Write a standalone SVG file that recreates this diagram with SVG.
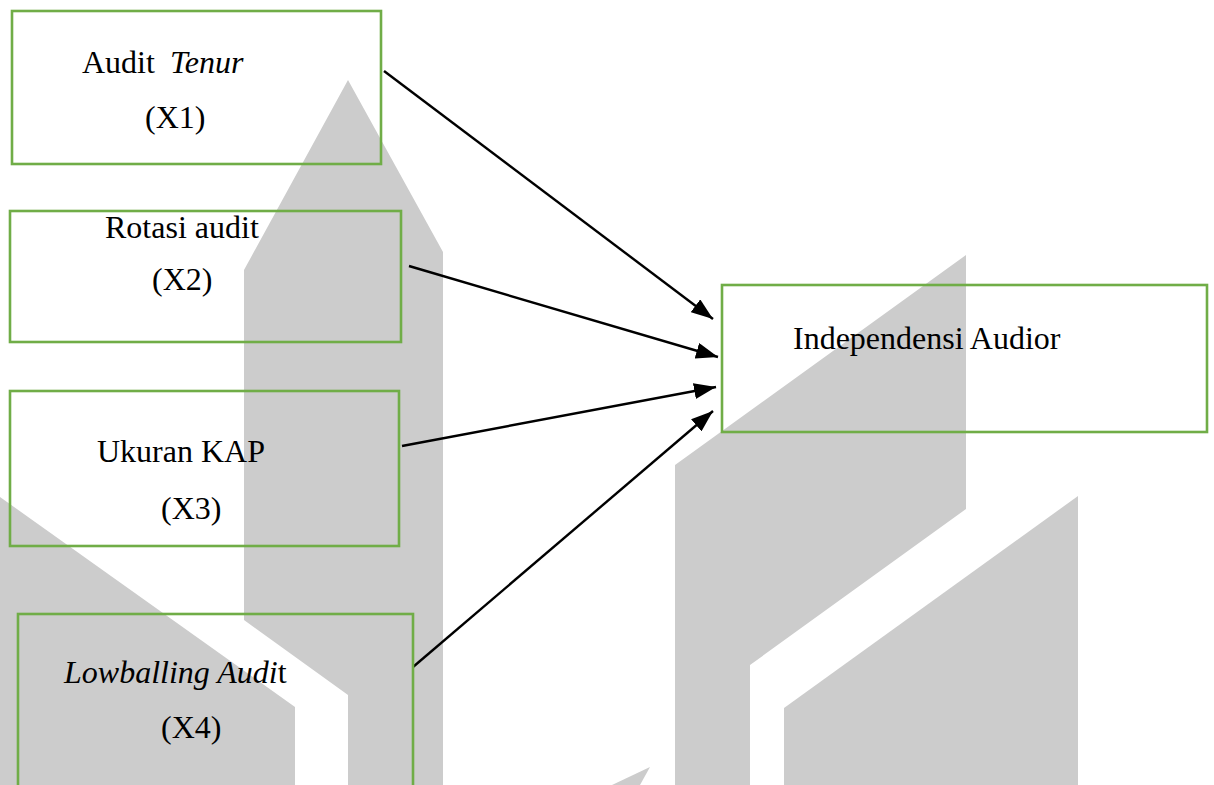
<svg xmlns="http://www.w3.org/2000/svg" width="1214" height="785" viewBox="0 0 1214 785">
<style>
.bg{fill:#cccccc;stroke:none}
.box{fill:none;stroke:#70ad47;stroke-width:2.6}
.t{font-family:"Liberation Serif","Times New Roman",serif;font-size:32px;fill:#000}
.i{font-style:italic}
.c{stroke:#000;stroke-width:2.4;fill:none}
</style>
<defs>
<marker id="ah" viewBox="0 0 22 16" refX="22" refY="8" markerWidth="22" markerHeight="16" markerUnits="userSpaceOnUse" orient="auto">
<path d="M0,0 L22,8 L0,16 z" fill="#000"/>
</marker>
</defs>
<rect width="1214" height="785" fill="#fff"/>
<g id="watermark">
<polygon class="bg" points="348,80 244,270 244,620 348,695 348,785 443,785 443,252"/>
<polygon class="bg" points="0,497 295,707 295,785 0,785"/>
<polygon class="bg" points="675,465 966,255 966,509 750,665 750,785 675,785"/>
<polygon class="bg" points="784,708 1078,496 1078,785 784,785"/>
<polygon class="bg" points="650,767 612,785 640,785"/>
</g>
<g id="connectors">
<line class="c" x1="384" y1="71" x2="713" y2="319" marker-end="url(#ah)"/>
<line class="c" x1="409" y1="266" x2="718" y2="357" marker-end="url(#ah)"/>
<line class="c" x1="402" y1="446" x2="716" y2="387" marker-end="url(#ah)"/>
<line class="c" x1="413" y1="667" x2="713" y2="411" marker-end="url(#ah)"/>
</g>
<g id="node-x1">
<rect class="box" x="12" y="11" width="369" height="153"/>
<text class="t" y="73"><tspan x="82">Audit</tspan><tspan x="170" class="i">Tenur</tspan></text>
<text class="t" x="145" y="128">(X1)</text>
</g>
<g id="node-x2">
<rect class="box" x="10" y="211" width="391" height="131"/>
<text class="t" x="105" y="238">Rotasi audit</text>
<text class="t" x="152" y="290">(X2)</text>
</g>
<g id="node-x3">
<rect class="box" x="10" y="391" width="389" height="155"/>
<text class="t" x="97" y="462">Ukuran KAP</text>
<text class="t" x="161" y="519">(X3)</text>
</g>
<g id="node-x4">
<rect class="box" x="18" y="614" width="395" height="200"/>
<text class="t" x="64" y="683"><tspan class="i">Lowballing Audi</tspan>t</text>
<text class="t" x="161" y="738">(X4)</text>
</g>
<g id="node-y">
<rect class="box" x="722" y="285" width="485" height="147"/>
<text class="t" x="793" y="349">Independensi Audior</text>
</g>
</svg>
